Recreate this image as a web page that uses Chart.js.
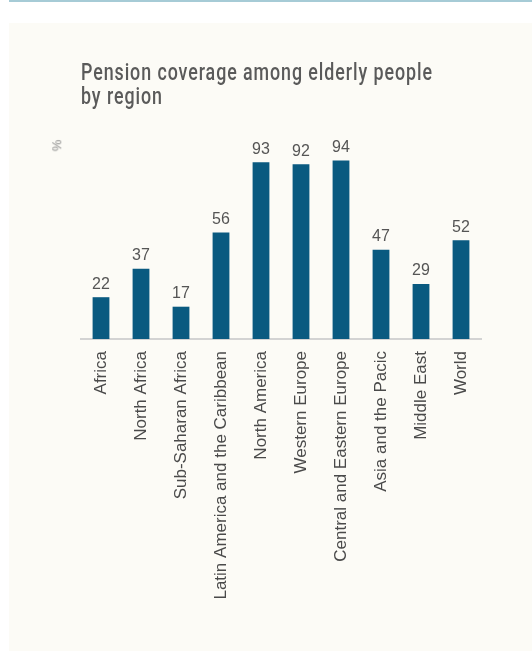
<!DOCTYPE html>
<html>
<head>
<meta charset="utf-8">
<script src="https://cdn.jsdelivr.net/npm/chart.js@4"></script>
<style>
  html, body { margin: 0; padding: 0; background: #ffffff; }
  body { width: 532px; height: 651px; position: relative; overflow: hidden; }
  #topline { position: absolute; left: 9px; top: 0; width: 523px; height: 2px; background: #a6cbd6; }
  #panel { position: absolute; left: 9px; top: 23px; width: 523px; height: 628px; background: #fcfbf6; }
  #title { position: absolute; left: 72px; top: 38px; font-family: Roboto, sans-serif; white-space: nowrap;
           font-size: 23px; font-weight: 500; line-height: 24px; letter-spacing: 1.2px; color: #5a5a5a;
           transform-origin: 0 0; }
  #unit { position: absolute; left: 42px; top: 115px; font-family: "Liberation Sans", Arial, sans-serif;
          font-size: 13px; color: #8a8a8a; transform: rotate(-90deg); }
  #chartBox { position: absolute; left: 0; top: 0; width: 523px; height: 628px; }
</style>
</head>
<body>
<div id="topline"></div>
<div id="panel">
  <div id="chartBox"><canvas id="coverageChart"></canvas></div>
  <div id="title">Pension coverage among elderly people<br>by region</div>
  <div id="unit"></div>
</div>
<script>
// Data
var regions = ["Africa", "North Africa", "Sub-Saharan Africa", "Latin America and the Caribbean",
               "North America", "Western Europe", "Central and Eastern Europe", "Asia and the Pacic",
               "Middle East", "World"];
var coverage = [22, 37, 17, 56, 93, 92, 94, 47, 29, 52];
var unitLabel = "%";

var textColor = "#555555";
var barColor = "#0a5a80";

// squeeze the title to the narrow width used in the original
var title = document.getElementById("title");
title.style.transform = "scaleX(" + (352 / title.scrollWidth) + ")";
document.getElementById("unit").textContent = unitLabel;

// draws the numbers above each bar
var valueLabels = {
    id: "valueLabels",
    afterDatasetsDraw: function(chart) {
        var ctx = chart.ctx;
        var meta = chart.getDatasetMeta(0);
        ctx.save();
        ctx.fillStyle = textColor;
        ctx.font = "16px 'Liberation Sans', Arial, sans-serif";
        ctx.textAlign = "center";
        ctx.textBaseline = "bottom";
        meta.data.forEach(function(bar, i) {
            ctx.fillText(coverage[i], bar.x, bar.y - 5);
        });
        ctx.restore();
    }
};

var ctx = document.getElementById("coverageChart").getContext("2d");
new Chart(ctx, {
    type: "bar",
    data: {
        labels: regions,
        datasets: [{
            data: coverage,
            backgroundColor: barColor,
            barPercentage: 0.42,
            categoryPercentage: 1
        }]
    },
    options: {
        responsive: true,
        maintainAspectRatio: false,
        animation: false,
        layout: { padding: { top: 126, left: 72, right: 51, bottom: 0 } },
        plugins: { legend: { display: false }, tooltip: { enabled: false } },
        scales: {
            x: {
                grid: { display: false, drawTicks: false },
                border: { display: true, color: "#d3d3d3", width: 2 },
                ticks: {
                    autoSkip: false, minRotation: 90, maxRotation: 90, padding: 12,
                    color: "#4a4a4a",
                    font: { family: "'Liberation Sans', Arial, sans-serif", size: 17 }
                },
                // long rotated labels: keep the axis tall enough for them
                afterFit: function(scale) { scale.height = 312; }
            },
            y: {
                display: false,
                min: 0, max: 100
            }
        }
    },
    plugins: [valueLabels]
});
</script>
</body>
</html>
